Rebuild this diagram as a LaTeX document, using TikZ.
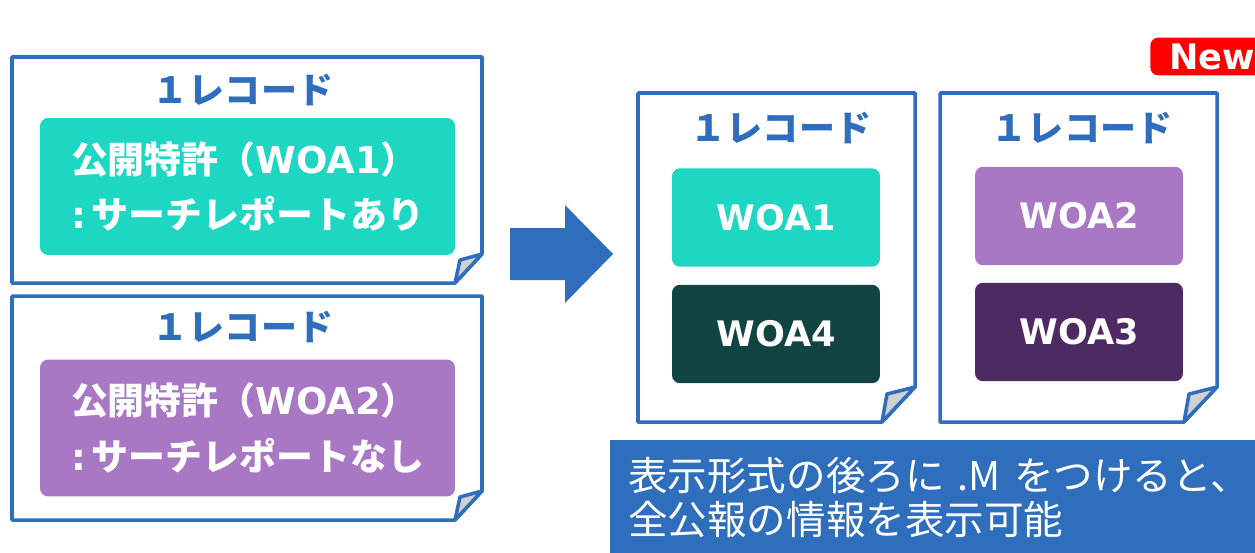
\documentclass[tikz,border=0pt]{standalone}
\usepackage{fontspec}
\newfontfamily\jpfont{Noto Sans CJK JP}
\newfontfamily\vfont{DejaVu Sans}
\usetikzlibrary{positioning}
\definecolor{pageblue}{RGB}{46,110,189}
\definecolor{cardteal}{RGB}{30,215,195}
\definecolor{cardpurple}{RGB}{168,120,196}
\definecolor{carddkgreen}{RGB}{18,69,65}
\definecolor{carddkpurple}{RGB}{78,42,98}
\definecolor{foldgray}{RGB}{208,208,208}
\begin{document}
\begin{tikzpicture}[x=0.02cm, y=-0.02cm,
    page/.style={draw=pageblue, line width=2pt, fill=white, line join=round},
    fold/.style={draw=pageblue, line width=2pt, fill=foldgray, line join=round},
    rectitle/.style={text=pageblue, font=\jpfont\bfseries\fontsize{20.5}{24}\selectfont},
    card/.style={rounded corners=0.16cm, inner sep=0pt, text=white},
    longcard/.style={card, minimum width=8.3cm, minimum height=2.74cm, align=left, font=\jpfont\bfseries\fontsize{21}{31.5}\selectfont},
    woacard/.style={card, minimum width=4.16cm, minimum height=1.97cm, font=\vfont\bfseries\fontsize{20}{24}\selectfont}]
    \useasboundingbox (0,0) rectangle (1255,552);

    % Record with search report
    \draw[page] (12,57) -- (482,57) -- (482,254) -- (455,283) -- (12,283) -- cycle;
    \draw[fold] (482,254) -- (460,260) -- (455,283) -- cycle;
    \node[rectitle] (rec1title) at (243,90) {１レコード};
    \node[longcard, fill=cardteal] (rec1card) at (247.5,186.5) {
      公開特許（{\vfont WOA1}）\\{\vfont :}\,サーチレポートあり
    };

    % Record without search report
    \draw[page] (12,296) -- (482,296) -- (482,491) -- (455,520) -- (12,520) -- cycle;
    \draw[fold] (482,491) -- (460,497) -- (455,520) -- cycle;
    \node[rectitle] (rec2title) at (243,327) {１レコード};
    \node[longcard, fill=cardpurple] (rec2card) at (247.5,428) {
      公開特許（{\vfont WOA2}）\\{\vfont :}\,サーチレポートなし
    };

    % Block arrow
    \fill[pageblue] (510,228) -- (565,228) -- (565,205) -- (613,254) -- (565,303) -- (565,280) -- (510,280) -- cycle;

    % Merged record A
    \draw[page] (638,93) -- (915,93) -- (915,387) -- (882,422) -- (638,422) -- cycle;
    \draw[fold] (915,387) -- (887,394) -- (882,422) -- cycle;
    \node[rectitle] (rec3title) at (781,128) {１レコード};
    \node[woacard, fill=cardteal] (woa1) at (776,217.5) {WOA1};
    \node[woacard, fill=carddkgreen] (woa4) at (776,334) {WOA4};

    % Merged record B
    \draw[page] (940,93) -- (1217,93) -- (1217,387) -- (1184,422) -- (940,422) -- cycle;
    \draw[fold] (1217,387) -- (1189,394) -- (1184,422) -- cycle;
    \node[rectitle] (rec4title) at (1082,128) {１レコード};
    \node[woacard, fill=cardpurple] (woa2) at (1079,216) {WOA2};
    \node[woacard, fill=carddkpurple] (woa3) at (1079,332) {WOA3};

    % New badge
    \node[fill=red, rounded corners=0.16cm, text=white, font=\vfont\bfseries\fontsize{20}{22}\selectfont, anchor=west, text width=2.4cm, inner xsep=0.38cm, minimum height=0.7cm] (newbadge) at (1150,56.5) {New};

    % Note
    \node[fill=pageblue, text=white, anchor=north west, text width=13cm, inner xsep=0.36cm, minimum height=2.3cm, align=left, font=\jpfont\fontsize{22.5}{25}\selectfont] (note) at (610,440) {
      表示形式の後ろに .M をつけると、\\全公報の情報を表示可能
    };
  \end{tikzpicture}
\end{document}
